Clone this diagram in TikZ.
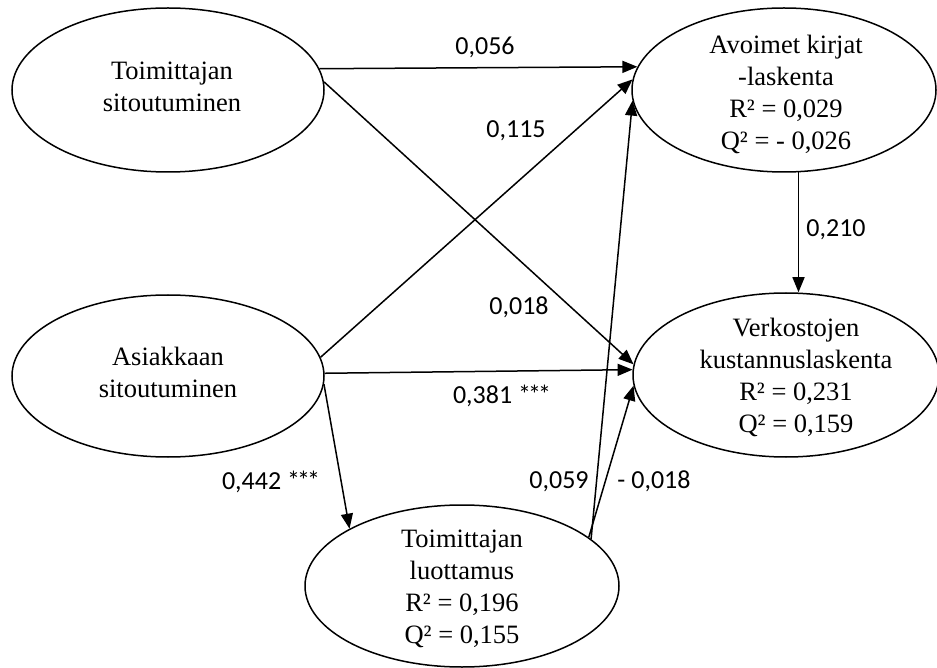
\documentclass[tikz,border=0pt]{standalone}
\usepackage{fontspec}
\setmainfont{Liberation Serif}
\newfontfamily\lblfont{Carlito}
\usetikzlibrary{shapes.geometric,arrows.meta}
\newcommand{\stars}{*\kern-3pt*\kern-3pt*}
\begin{document}
\begin{tikzpicture}[x=1pt,y=-1pt,
  lat/.style={ellipse, draw, line width=1.5pt, inner sep=0pt},
  txt/.style={align=center, font=\fontsize{26.5}{32}\selectfont, inner sep=0pt},
  lbl/.style={font=\lblfont\fontsize{26}{30}\selectfont, inner sep=0pt, anchor=base},
  arr/.style={line width=1.5pt, -{Triangle[length=15pt,width=12pt]}}]
\useasboundingbox (0,0) rectangle (937,668);
% latent variables
\node[lat, minimum width=312pt, minimum height=164pt] (e1) at (168,90) {};
\node[lat, minimum width=312pt, minimum height=162pt] (e2) at (168,376) {};
\node[lat, minimum width=304pt, minimum height=164pt] (e3) at (784,90) {};
\node[lat, minimum width=306pt, minimum height=164pt] (e4) at (786,375) {};
\node[lat, minimum width=314pt, minimum height=162pt] (e5) at (462,586) {};
% texts
\node[txt] (t1) at (172,87) {Toimittajan\\sitoutuminen};
\node[txt] (t2) at (168,372) {Asiakkaan\\sitoutuminen};
\node[txt] (t3) at (786,94) {Avoimet kirjat\\-laskenta\\R² = 0,029\\Q² = - 0,026};
\node[txt] (t4) at (796,377) {Verkostojen\\kustannuslaskenta\\R² = 0,231\\Q² = 0,159};
\node[txt] (t5) at (462,589) {Toimittajan\\luottamus\\R² = 0,196\\Q² = 0,155};
% paths
\draw[arr] (e1.8.6) -- (e3.171.2);
\draw[arr] (e1.3.7) -- (e4.176);
\draw[arr] (e2.7.8) -- (e3.176.3);
\draw[arr] (e2.1.5) -- (e4.178.9);
\draw[arr] (e2.-3.3) -- (e5.153.6);
\draw[arr] (e3.-80.3) -- (e3.-80.3 |- e4.north);
\draw[arr] (e5.20.9) -- (e3.184.9);
\draw[arr] (e5.21.5) -- (e4.184.1);
% coefficients
\node[lbl] (l1) at (485,55) {0,056};
\node[lbl] (l2) at (516,138) {0,115};
\node[lbl] (l3) at (519,315) {0,018};
\node[lbl] (l4) at (502,403) {0,381 \stars};
\node[lbl] (l5) at (271,489) {0,442 \stars};
\node[lbl] (l6) at (836,237) {0,210};
\node[lbl] (l7) at (559,488) {0,059};
\node[lbl] (l8) at (654,488) {- 0,018};
\end{tikzpicture}
\end{document}
